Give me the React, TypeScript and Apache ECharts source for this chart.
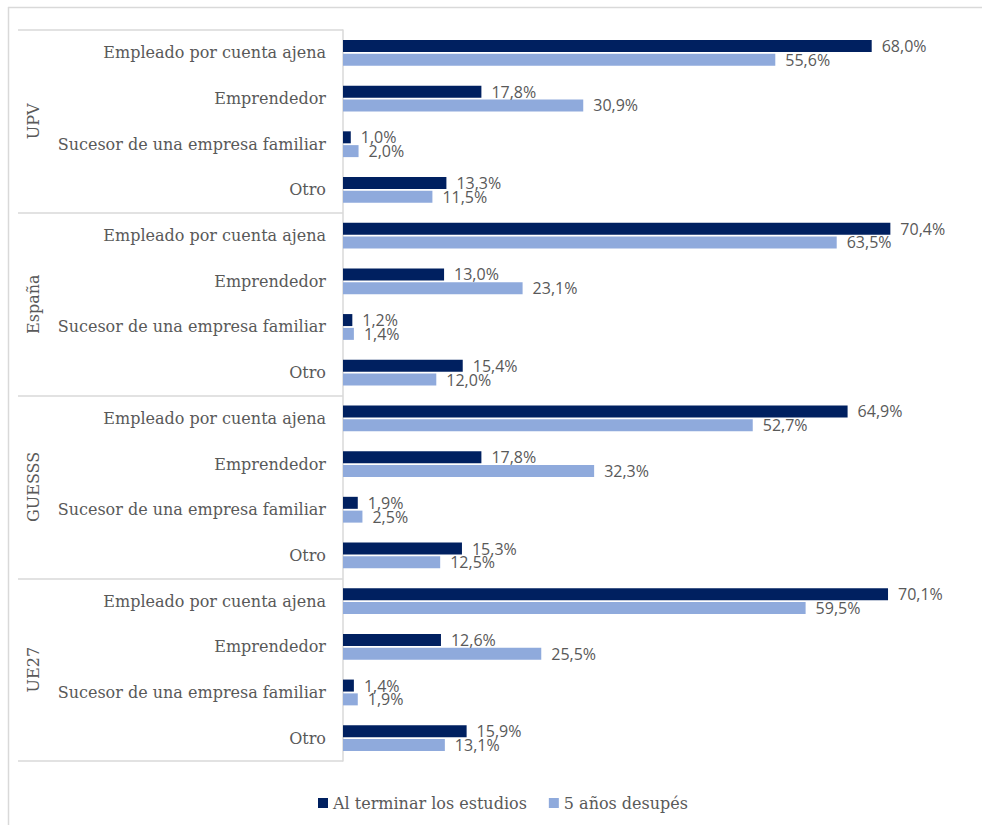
import React, { useEffect, useRef } from "react";
import * as echarts from "echarts";

const groups = ["UPV", "España", "GUESSS", "UE27"];
const roles = [
  "Empleado por cuenta ajena",
  "Emprendedor",
  "Sucesor de una empresa familiar",
  "Otro",
];
const seriesNames = ["Al terminar los estudios", "5 años desupés"];
// values per group, in the order of roles
const alTerminar = [
  68.0, 17.8, 1.0, 13.3,
  70.4, 13.0, 1.2, 15.4,
  64.9, 17.8, 1.9, 15.3,
  70.1, 12.6, 1.4, 15.9,
];
const cincoAnios = [
  55.6, 30.9, 2.0, 11.5,
  63.5, 23.1, 1.4, 12.0,
  52.7, 32.3, 2.5, 12.5,
  59.5, 25.5, 1.9, 13.1,
];
const colors = ["#002060", "#8FAADC"];

export default function App() {
  const ref = useRef<HTMLDivElement>(null);
  useEffect(() => {
    if (!ref.current) return;
    const chart = echarts.init(ref.current, null, { renderer: "svg" });
    const categories: string[] = [];
    groups.forEach(() => roles.forEach((r) => categories.push(r)));
    const fmt = (p: any) => p.value.toFixed(1).replace(".", ",") + "%";
    const labelStyle = {
      show: true,
      position: "right",
      distance: 10,
      formatter: fmt,
      fontFamily: "Open Sans",
      fontSize: 16,
      color: "#595959",
    };
    chart.setOption({
      animation: false,
      backgroundColor: "#ffffff",
      grid: { left: 343, top: 30, bottom: 64, right: 17, containLabel: false },
      legend: {
        data: seriesNames,
        top: 790,
        left: 313,
        itemWidth: 10,
        itemHeight: 10,
        itemGap: 22,
        icon: "rect",
        textStyle: { fontFamily: "DejaVu Serif", fontSize: 16, color: "#595959" },
      },
      xAxis: {
        type: "value",
        min: 0,
        max: 80,
        show: false,
        splitLine: { show: false },
      },
      yAxis: [
        {
          type: "category",
          data: categories,
          inverse: true,
          axisLine: { show: true, lineStyle: { color: "#d9d9d9", width: 1.5 } },
          axisTick: { show: false },
          axisLabel: {
            margin: 17,
            fontFamily: "DejaVu Serif",
            fontSize: 16,
            color: "#595959",
          },
        },
        {
          type: "category",
          data: groups,
          inverse: true,
          position: "left",
          offset: 325,
          axisLine: { show: false },
          axisTick: {
            show: true,
            inside: true,
            length: 325,
            lineStyle: { color: "#d9d9d9", width: 1.5 },
          },
          axisLabel: {
            inside: true,
            rotate: 90,
            margin: 7,
            fontFamily: "DejaVu Serif",
            fontSize: 16,
            color: "#595959",
          },
        },
      ],
      series: [
        {
          name: seriesNames[0],
          type: "bar",
          data: alTerminar,
          yAxisIndex: 0,
          barWidth: 12,
          barGap: "15%",
          itemStyle: { color: colors[0] },
          label: labelStyle,
        },
        {
          name: seriesNames[1],
          type: "bar",
          data: cincoAnios,
          yAxisIndex: 0,
          barWidth: 12,
          barGap: "15%",
          itemStyle: { color: colors[1] },
          label: labelStyle,
        },
      ],
      graphic: [
        {
          type: "line",
          shape: { x1: 8, y1: 7.5, x2: 982, y2: 7.5 },
          style: { stroke: "#d9d9d9", lineWidth: 1.5 },
        },
        {
          type: "line",
          shape: { x1: 8.5, y1: 7, x2: 8.5, y2: 825 },
          style: { stroke: "#d9d9d9", lineWidth: 1.5 },
        },
      ],
    });
    return () => chart.dispose();
  }, []);
  return (
    <div
      ref={ref}
      style={{ position: "fixed", left: 0, top: 0, width: 982, height: 825 }}
    />
  );
}
